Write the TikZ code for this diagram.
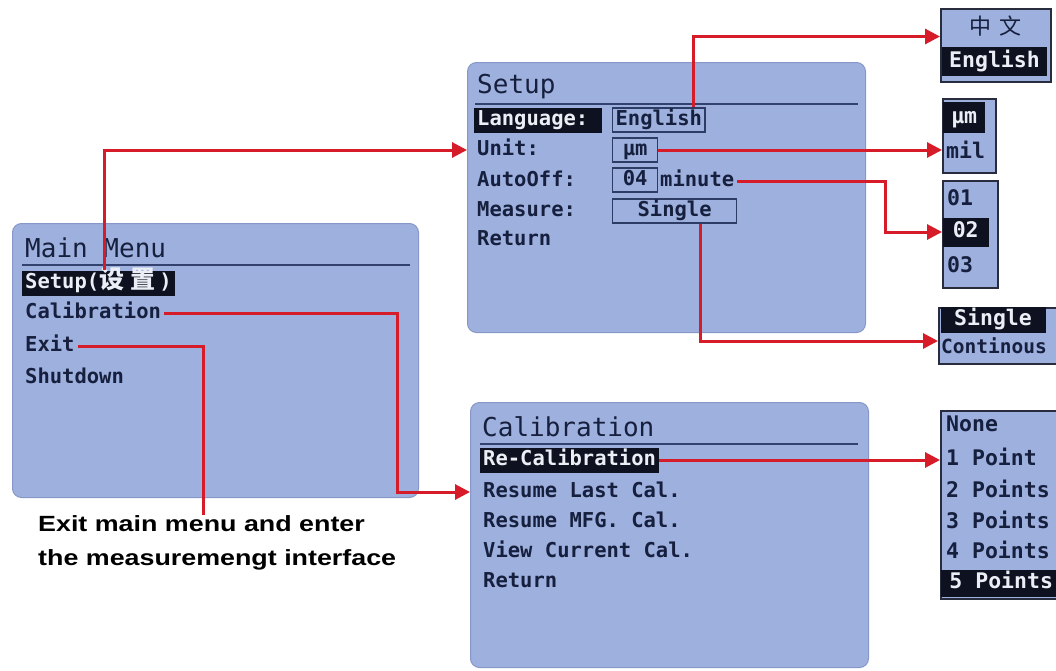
\documentclass[tikz,border=0pt]{standalone}
\usepackage{fontspec}
\usetikzlibrary{arrows.meta}
\newfontfamily\lcdfont{DejaVu Sans Mono}
\newfontfamily\cjk{Noto Sans CJK SC}
\newfontfamily\notefont[FakeStretch=1.22]{Liberation Sans}

\definecolor{panelfill}{RGB}{158,176,222}
\definecolor{paneledge}{RGB}{135,152,200}
\definecolor{lcdtext}{RGB}{22,32,62}
\definecolor{selfill}{RGB}{14,18,32}
\definecolor{seltext}{RGB}{235,238,245}
\definecolor{boxedge}{RGB}{45,60,100}
\definecolor{optedge}{RGB}{40,44,60}
\definecolor{linkred}{RGB}{214,28,40}
\definecolor{rulecolor}{RGB}{50,65,110}

\tikzset{
  panel/.style={draw=paneledge, line width=1pt, fill=panelfill, rounded corners=9pt,
    anchor=north west, inner sep=0pt},
  wintitle/.style={font=\lcdfont\fontsize{26}{30}\selectfont, text=lcdtext, anchor=west, inner sep=3pt},
  lcd/.style={font=\lcdfont\bfseries\fontsize{20.5}{24}\selectfont, text=lcdtext, anchor=west,
    inner xsep=3pt, inner ysep=3pt, text height=15pt, text depth=4pt},
  sel/.style={lcd, fill=selfill, text=seltext},
  valbox/.style={lcd, draw=boxedge, line width=1.2pt, inner ysep=2.5pt},
  optbox/.style={draw=optedge, line width=2pt, fill=panelfill, anchor=north west, inner sep=0pt},
  opt/.style={font=\lcdfont\bfseries\fontsize{21.5}{24}\selectfont, text=lcdtext, anchor=west,
    inner sep=2pt, text height=15pt, text depth=4pt},
  optsel/.style={opt, fill=selfill, text=seltext},
  titlerule/.style={draw=rulecolor, line width=1.3pt},
  link/.style={draw=linkred, line width=3pt, -{Triangle[length=15pt,width=15pt]}},
  linkend/.style={draw=linkred, line width=3pt}
}

\begin{document}
\begin{tikzpicture}[x=1pt,y=-1pt]
\useasboundingbox[fill=white] (0,0) rectangle (1056,670);

% windows
\node[panel, minimum width=406pt, minimum height=274pt] (mainwin) at (12,223) {};
\node[panel, minimum width=398pt, minimum height=270pt] (setupwin) at (467,62) {};
\node[panel, minimum width=398pt, minimum height=265pt] (calwin) at (470,402) {};

% main menu
\node[wintitle] (mtitle) at (22,248) {Main Menu};
\draw[titlerule] (22,265) -- (410,265);
\node[sel] (msetup) at (22,283) {Setup({\cjk\fontsize{25}{28}\selectfont 设\hspace{6pt}置\hspace{4pt}})};
\node[lcd] (mcal) at (22,313) {Calibration};
\node[lcd] (mexit) at (22,346) {Exit};
\node[lcd] (mshut) at (22,378) {Shutdown};

% setup window
\node[wintitle] (stitle) at (474,87) {Setup};
\draw[titlerule] (475,104) -- (858,104);
\node[sel, text width=122pt, align=left] (slang) at (474,120) {Language:};
\node[lcd] (sunit) at (474,150) {Unit:};
\node[lcd] (sauto) at (474,181) {AutoOff:};
\node[lcd] (smeas) at (474,211) {Measure:};
\node[lcd] (sret) at (474,240) {Return};
\node[valbox] (englbox) at (612,120) {English};
\node[valbox, minimum width=45pt] (unitbox) at (612,150) {µm};
\node[valbox, minimum width=45pt] (autobox) at (612,180) {04};
\node[lcd] (minute) at (657,181) {minute};
\node[valbox, minimum width=124pt] (measbox) at (612,211) {Single};

% calibration window
\node[wintitle] (ctitle) at (479,427) {Calibration};
\draw[titlerule] (480,444) -- (858,444);
\node[sel] (crecal) at (480,460) {Re-Calibration};
\node[lcd] (clast) at (480,492) {Resume Last Cal.};
\node[lcd] (cmfg) at (480,522) {Resume MFG. Cal.};
\node[lcd] (cview) at (480,552) {View Current Cal.};
\node[lcd] (cret) at (480,582) {Return};

% option lists
\node[optbox, minimum width=110pt, minimum height=73pt] (langopt) at (940,8) {};
\node[text=lcdtext, font=\cjk\fontsize{22}{24}\selectfont] (zh) at (995,26) {中\hspace{8pt}文};
\node[optsel, anchor=center, minimum width=105pt, minimum height=29pt] (en) at (994.5,61.5) {English};

\node[optbox, minimum width=53pt, minimum height=74pt] (unitopt) at (942,98) {};
\node[optsel, minimum width=42pt, minimum height=31pt] (oum) at (943,117.5) {µm};
\node[opt] (omil) at (944,153) {mil};

\node[optbox, minimum width=55pt, minimum height=107pt] (autoopt) at (942,180) {};
\node[opt] (o01) at (945,200) {01};
\node[optsel, minimum width=46pt, minimum height=29pt] (o02) at (942.5,232) {02};
\node[opt] (o03) at (945,267) {03};

\node[optbox, minimum width=125pt, minimum height=56pt] (measopt) at (938,307) {};
\node[optsel, anchor=center, minimum width=105pt, minimum height=26pt] (osingle) at (993,320) {Single};
\node[opt, font=\lcdfont\bfseries\fontsize{19.5}{24}\selectfont, inner sep=1pt] (ocont) at (940,348) {Continous};

\node[optbox, minimum width=125pt, minimum height=188pt] (ptopt) at (940,410) {};
\node[opt] (pnone) at (944,426) {None};
\node[opt] (p1) at (944,460) {1 Point};
\node[opt] (p2) at (944,492) {2 Points};
\node[opt] (p3) at (944,523) {3 Points};
\node[opt] (p4) at (944,553) {4 Points};
\node[optsel, minimum width=120pt, minimum height=27pt] (p5) at (941,583) {5 Points};

% note
\node[font=\notefont\bfseries\fontsize{22}{34}\selectfont, align=left, anchor=north west,
  inner sep=0pt, text=black] (exitnote) at (38,515) {Exit main menu and enter\\the measuremengt interface};

% connectors
\draw[link] ([xshift=6pt]msetup.north) |- (setupwin.west |- sunit);
\draw[link] ([xshift=-12pt]englbox.north east) |- ([yshift=9pt]langopt.west);
\draw[link] (unitbox.east) -- (unitbox.east -| unitopt.west);
\draw[link] (minute.east) -- ++(148,0) |- (autoopt.west |- o02);
\draw[link] ([xshift=26pt]measbox.south) |- ([yshift=-5pt]measopt.west);
\draw[link] (mcal.east) -- ++(233,0) |- (calwin.west |- clast);
\draw[linkend] (mexit.east) -| ([xshift=-14pt]exitnote.north);
\draw[link] (crecal.east) -- (crecal.east -| ptopt.west);
\end{tikzpicture}
\end{document}
